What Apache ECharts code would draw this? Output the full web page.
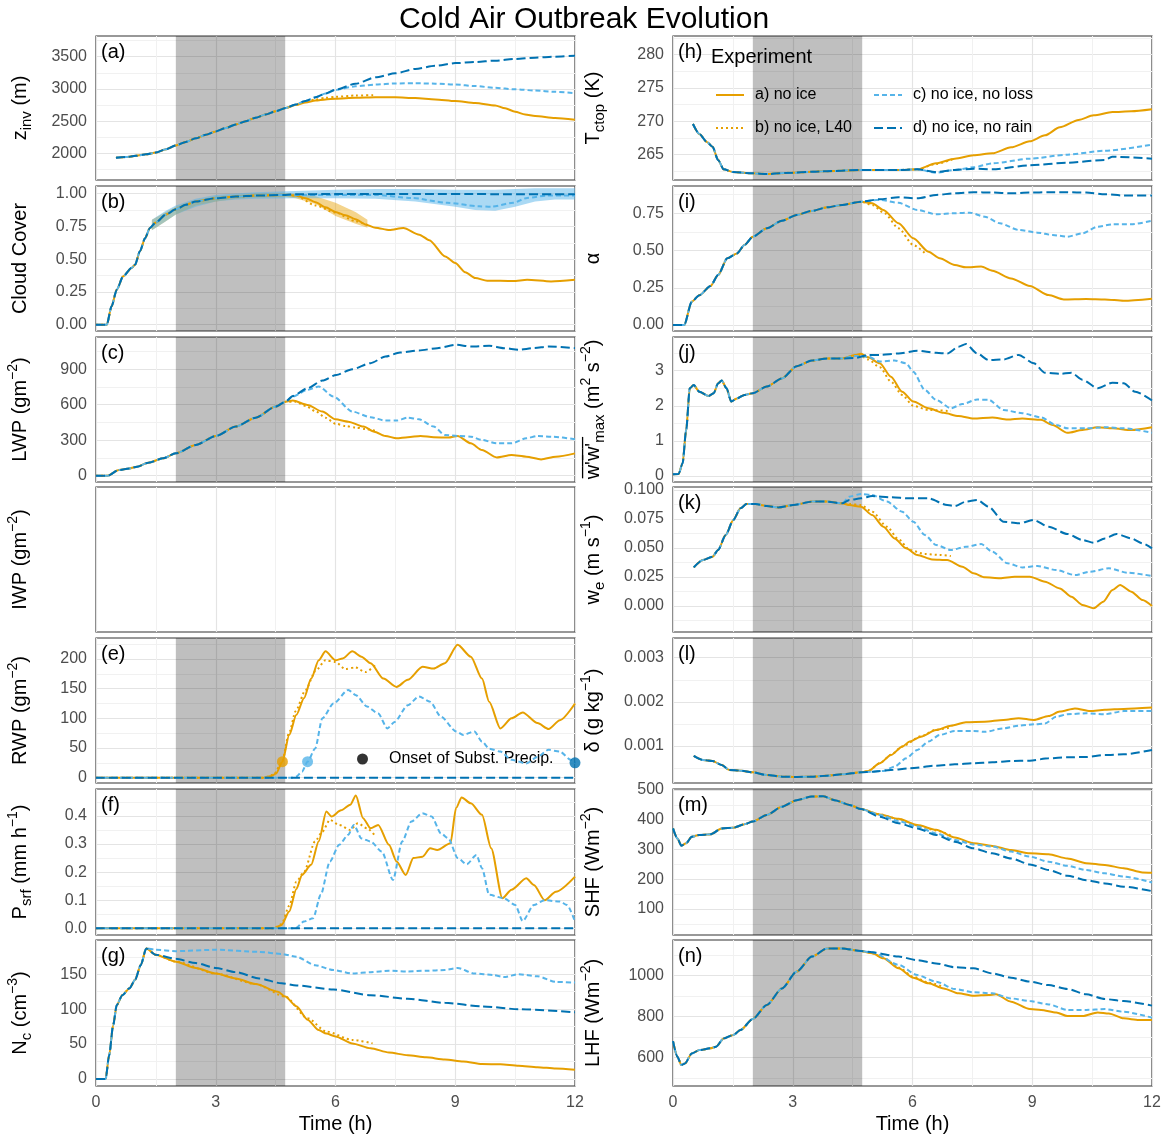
<!DOCTYPE html>
<html lang="en">
<head>
<meta charset="UTF-8">
<title>Cold Air Outbreak Evolution</title>
<script src="https://cdn.jsdelivr.net/npm/echarts@6.0.0/dist/echarts.min.js"></script>
<style>
    html, body { margin: 0; padding: 0; background: #fff; }
    #chart { width: 1168px; height: 1139px; }
</style>
</head>
<body>
<div id="chart"></div>
<script>
// experiments: colour + line type
var NAMES = ['a) no ice', 'b) no ice, L40', 'c) no ice, no loss', 'd) no ice, no rain'];
var COLORS = ['#E69F00', '#E69F00', '#56B4E9', '#0072B2'];
var DASHES = ['solid', [2, 3], [5, 3], [9, 4]];
var SHADE = [2, 4.74];   // grey band, hours

// (a) inversion height, m
var zinvEarly = [[0.5,1935],[0.75,1945],[1,1965],[1.25,1987],[1.5,2015],[1.75,2065],[2,2125],[2.25,2180],[2.5,2235],[2.75,2290],[3,2343],[3.25,2395],[3.5,2450],[3.75,2500],[4,2555],[4.25,2605],[4.5,2655],[4.75,2705]];
var zinvA = zinvEarly.concat([[5,2750],[5.25,2790],[5.5,2820],[5.75,2838],[6,2850],[6.5,2865],[7,2872],[7.5,2872],[8,2858],[8.5,2838],[9,2812],[9.5,2782],[10,2745],[10.25,2700],[10.5,2648],[10.75,2605],[11,2580],[11.5,2550],[12,2524]]);
var zinvB = zinvEarly.concat([[5,2755],[5.25,2800],[5.5,2838],[5.75,2862],[6,2878],[6.5,2898],[7,2905]]);
var zinvC = zinvEarly.concat([[5,2760],[5.25,2815],[5.5,2870],[5.75,2930],[6,2985],[6.5,3040],[7,3068],[7.5,3085],[8,3088],[8.5,3082],[9,3068],[9.5,3045],[10,3017],[10.5,2995],[11,2975],[11.5,2955],[12,2935]]);
var zinvD = zinvEarly.concat([[5,2760],[5.25,2815],[5.5,2870],[5.75,2930],[6,2988],[6.5,3080],[7,3180],[7.5,3242],[8,3310],[8.5,3358],[9,3400],[9.5,3418],[10,3438],[10.5,3464],[11,3485],[11.5,3500],[12,3515]]);

// (b) cloud cover
var ccEarly = [[0,0],[0.27,0],[0.39,0.14],[0.52,0.267],[0.68,0.369],[0.89,0.433],[0.98,0.458],[1.1,0.56],[1.23,0.66],[1.35,0.738],[1.5,0.78],[1.75,0.84],[2,0.88],[2.25,0.915],[2.5,0.94],[3,0.965],[3.5,0.977],[4,0.985],[4.75,0.99]];
var ccA = ccEarly.concat([[5,0.985],[5.25,0.965],[5.5,0.935],[5.75,0.895],[6,0.86],[6.25,0.835],[6.5,0.805],[6.75,0.765],[7,0.74],[7.35,0.722],[7.7,0.738],[8.1,0.687],[8.35,0.645],[8.75,0.52],[9,0.47],[9.25,0.4],[9.5,0.356],[9.8,0.336],[10.45,0.333],[10.8,0.343],[11.4,0.33],[12,0.343]]);
var ccB = ccEarly.concat([[5,0.985],[5.5,0.91],[6,0.855],[6.5,0.79],[6.8,0.76]]);
var ccC = ccEarly.concat([[5,0.99],[6,0.99],[7,0.99],[7.9,0.967],[8.8,0.93],[9.6,0.903],[9.9,0.9],[10.45,0.93],[10.8,0.967],[11.3,0.985],[12,0.985]]);
var ccD = ccEarly.concat([[5,0.995],[6,0.997],[8,0.997],[10,0.996],[12,0.995]]);
// uncertainty ribbons: [hour, low, high]
var ccBandOrange = [[1.4,0.72,0.8],[1.75,0.79,0.86],[2,0.84,0.9],[2.5,0.91,0.95],[3,0.94,0.98],[3.5,0.96,0.99],[4,0.97,1.0],[4.75,0.975,1.005],[5,0.965,1.0],[5.5,0.92,0.98],[6,0.83,0.93],[6.5,0.77,0.86],[6.8,0.74,0.8]];
var ccBandBlue = [[1.4,0.72,0.8],[1.75,0.79,0.87],[2,0.84,0.91],[2.5,0.9,0.96],[3,0.94,0.99],[3.5,0.955,1.0],[4,0.96,1.01],[5,0.965,1.02],[6,0.965,1.03],[7,0.96,1.035],[8,0.94,1.035],[9,0.9,1.03],[9.5,0.875,1.03],[10,0.87,1.03],[10.5,0.9,1.035],[11,0.94,1.04],[11.5,0.955,1.04],[12,0.955,1.04]];

// (c) LWP, g m-2
var lwpEarly = [[0,0],[0.29,0],[0.57,48],[0.84,62],[1.03,76],[1.31,110],[1.68,147],[2,189],[2.5,260],[3,336],[3.5,415],[4,490],[4.5,584],[4.75,626]];
var lwpA = lwpEarly.concat([[4.93,635],[5.3,598],[5.67,542],[6,477],[6.32,457],[6.7,415],[6.97,372],[7.25,336],[7.53,316],[7.81,325],[8.13,336],[8.46,325],[8.83,322],[9.06,336],[9.39,274],[9.67,217],[10.04,155],[10.41,175],[10.78,161],[11.15,138],[11.52,161],[12,189]]);
var lwpB = lwpEarly.concat([[5,625],[5.25,590],[5.5,545],[5.75,490],[6,440],[6.25,420],[6.5,408],[6.75,395],[7,380]]);
var lwpC = lwpEarly.concat([[4.93,669],[5.3,725],[5.58,753],[5.95,669],[6.42,542],[6.88,494],[7.25,466],[7.53,466],[7.81,491],[8.09,477],[8.46,415],[8.74,344],[9.1,336],[9.39,330],[9.67,302],[10.04,274],[10.41,274],[10.78,316],[11.06,336],[11.43,330],[12,308]]);
var lwpD = lwpEarly.concat([[4.93,674],[5.3,739],[5.67,804],[6.02,852],[6.42,900],[6.88,951],[7.25,1007],[7.62,1041],[8.09,1058],[8.55,1078],[9.02,1106],[9.39,1092],[9.85,1098],[10.22,1078],[10.59,1064],[10.97,1078],[11.34,1092],[12,1078]]);

// (e) RWP, g m-2
var rwpA = [[0,0],[4.2,0],[4.4,3],[4.51,7],[4.67,27],[4.84,72],[5.02,106],[5.21,134],[5.39,167],[5.58,198],[5.75,213],[6,198],[6.18,201],[6.42,213],[6.65,204],[6.88,193],[7.2,167],[7.53,153],[7.81,165],[8.18,187],[8.46,184],[8.74,193],[9.06,224],[9.39,204],[9.67,167],[9.85,128],[10.13,83],[10.41,100],[10.69,110],[11.06,92],[11.34,82],[11.62,97],[12,125]];
var rwpB = [[0,0],[4.2,0],[4.45,5],[4.65,25],[4.85,78],[5,112],[5.25,148],[5.5,180],[5.75,198],[6,195],[6.25,183],[6.5,186],[6.75,178],[7,190]];
var rwpC = [[0,0],[4.9,0],[5.02,2],[5.16,10],[5.3,27],[5.49,49],[5.67,100],[5.95,125],[6.32,148],[6.51,139],[6.79,120],[7.07,108],[7.3,83],[7.48,94],[7.81,122],[8.09,137],[8.37,128],[8.64,103],[9.02,78],[9.2,72],[9.48,78],[9.67,61],[9.85,49],[10.13,44],[10.41,30],[10.78,24],[11.06,35],[11.34,47],[11.62,44],[11.9,30],[12,25]];
var rwpD = [[0,0],[12,0]];
var onsetA = [4.67, 27], onsetC = [5.3, 27], onsetD = [12, 25];

// (f) surface precipitation, mm h-1
var psrfA = [[0,0],[4.45,0],[4.65,0.012],[4.84,0.06],[5.02,0.14],[5.16,0.19],[5.39,0.226],[5.58,0.31],[5.77,0.416],[5.9,0.398],[6.14,0.42],[6.37,0.44],[6.51,0.473],[6.69,0.392],[6.88,0.356],[7.07,0.368],[7.34,0.297],[7.53,0.238],[7.76,0.19],[7.95,0.25],[8.18,0.255],[8.37,0.285],[8.55,0.279],[8.88,0.303],[9.02,0.428],[9.16,0.466],[9.39,0.445],[9.67,0.404],[9.9,0.285],[10.18,0.107],[10.41,0.137],[10.78,0.178],[10.97,0.154],[11.24,0.1],[11.52,0.13],[12,0.184]];
var psrfB = [[0,0],[4.45,0],[4.65,0.015],[4.84,0.08],[5.02,0.166],[5.21,0.2],[5.49,0.31],[5.67,0.344],[5.86,0.386],[6.09,0.368],[6.37,0.35],[6.56,0.374],[6.79,0.356],[6.97,0.333]];
var psrfC = [[0,0],[5,0],[5.21,0.024],[5.44,0.036],[5.63,0.119],[5.86,0.238],[6.09,0.297],[6.32,0.333],[6.46,0.368],[6.65,0.32],[6.88,0.309],[7.16,0.273],[7.44,0.172],[7.67,0.309],[7.9,0.38],[8.18,0.41],[8.41,0.398],[8.64,0.338],[8.83,0.32],[9.06,0.25],[9.29,0.228],[9.53,0.261],[9.67,0.214],[9.85,0.119],[10.22,0.107],[10.5,0.083],[10.69,0.026],[10.97,0.083],[11.24,0.1],[11.62,0.095],[11.8,0.083],[12,0.024]];
var psrfD = [[0,0],[12,0]];

// (g) droplet number, cm-3
var ncEarly = [[0,0],[0.24,0],[0.33,34],[0.43,77],[0.52,106],[0.66,120],[0.84,130],[0.98,142],[1.12,163],[1.26,187]];
var ncA = ncEarly.concat([[1.49,178],[2,168],[2.5,159],[3,151],[3.5,144],[4,136],[4.56,125],[4.74,118],[5.02,104],[5.3,85],[5.58,70],[5.77,65],[6,61],[6.42,51],[6.88,44],[7.34,38],[7.81,34],[8.27,31],[8.74,28],[9.2,25],[9.67,21.5],[10.13,21],[10.59,19],[11.06,17],[11.52,15],[12,13.4]]);
var ncB = ncEarly.concat([[1.49,178],[2,168],[3,151],[4,136],[4.74,118],[5.3,87],[5.77,68],[6.42,56],[6.93,51]]);
var ncC = ncEarly.concat([[1.49,185],[2,183],[3,185],[4.09,182],[4.65,179],[5.02,175],[5.49,163],[5.95,156],[6.42,151],[6.88,153],[7.34,155],[7.81,154],[8.27,155],[8.74,156],[9.06,159],[9.48,151],[9.94,149],[10.22,146],[10.59,150],[11.06,147],[11.52,139],[12,138]]);
var ncD = ncEarly.concat([[1.49,178],[2,172],[2.5,166],[3,159],[3.5,153],[4.09,144],[4.65,137],[5.02,134],[5.95,128],[6.88,120],[7.81,115],[8.74,109],[9.67,104],[10.59,100],[12,95.5]]);

// (h) cloud-top temperature, K
var tctEarly = [[0.5,269.6],[0.66,268.1],[0.85,266.9],[0.99,266.2],[1.13,264.2],[1.27,262.8],[1.5,262.4],[2,262.2],[2.35,262.1],[3,262.3],[3.75,262.5],[4.7,262.7],[5.65,262.7],[6.12,262.8]];
var tctA = tctEarly.concat([[6.59,263.7],[7.06,264.4],[7.53,264.9],[8,265.2],[8.47,266.1],[8.94,267],[9.32,267.9],[9.69,269.1],[10.16,270.2],[10.54,270.9],[11.01,271.4],[11.48,271.5],[12,271.8]]);
var tctB = tctEarly.concat([[6.59,263.6],[7,264.3]]);
var tctC = tctEarly.concat([[6.59,262.3],[7.06,262.7],[7.53,263.1],[8,263.7],[8.94,264.4],[9.88,265],[10.82,265.6],[12,266.5]]);
var tctD = tctEarly.concat([[6.59,262.4],[7.06,262.7],[7.53,262.9],[8,262.8],[8.94,263.4],[9.88,263.8],[10.82,264.2],[11,264.7],[12,264.4]]);

// (i) albedo
var albEarly = [[0,0],[0.28,0],[0.47,0.157],[0.66,0.2],[0.94,0.262],[1.13,0.336],[1.36,0.448],[1.6,0.48],[1.79,0.537],[2,0.593],[2.35,0.649],[2.73,0.7],[3.1,0.739],[3.48,0.766],[3.86,0.79],[4.24,0.806],[4.71,0.828]];
var albA = albEarly.concat([[4.99,0.817],[5.27,0.772],[5.65,0.683],[6.02,0.582],[6.4,0.492],[6.68,0.448],[7.06,0.403],[7.34,0.387],[7.72,0.392],[8,0.365],[8.47,0.313],[8.94,0.262],[9.41,0.201],[9.79,0.172],[10.35,0.175],[10.82,0.172],[11.29,0.163],[12,0.177]]);
var albB = albEarly.concat([[4.99,0.806],[5.3,0.75],[5.65,0.649],[6.02,0.537],[6.36,0.47]]);
var albC = albEarly.concat([[5.18,0.84],[5.65,0.82],[6.12,0.772],[6.59,0.743],[7.06,0.75],[7.44,0.754],[7.81,0.727],[8.19,0.683],[8.66,0.638],[9.13,0.62],[9.51,0.604],[9.88,0.593],[10.26,0.616],[10.64,0.66],[11.01,0.676],[11.48,0.676],[12,0.7]]);
var albD = albEarly.concat([[5.18,0.844],[5.65,0.857],[6.12,0.85],[6.59,0.873],[7.06,0.884],[7.53,0.891],[8,0.889],[8.47,0.884],[8.94,0.889],[9.41,0.891],[9.88,0.891],[10.35,0.889],[10.82,0.878],[11.29,0.869],[12,0.869]]);

// (j) max vertical velocity variance, m2 s-2
var wwEarly = [[0,0.05],[0.14,0.06],[0.24,0.36],[0.33,1.31],[0.42,2.5],[0.52,2.59],[0.66,2.4],[0.89,2.28],[1.02,2.36],[1.13,2.64],[1.22,2.72],[1.34,2.5],[1.46,2.12],[1.6,2.21],[1.79,2.31],[2,2.36],[2.35,2.55],[2.73,2.78],[3.1,3.13],[3.48,3.29],[3.86,3.35],[4.24,3.35]];
var wwA = wwEarly.concat([[4.56,3.45],[4.71,3.48],[4.89,3.38],[5.18,3.21],[5.46,2.83],[5.74,2.4],[6.02,2.12],[6.4,1.93],[6.78,1.8],[7.15,1.71],[7.53,1.64],[8,1.67],[8.38,1.61],[8.75,1.64],[9.22,1.6],[9.51,1.45],[9.88,1.23],[10.26,1.31],[10.64,1.39],[11.01,1.36],[11.48,1.31],[12,1.39]]);
var wwB = wwEarly.concat([[4.56,3.42],[4.71,3.42],[4.89,3.32],[5.18,3.1],[5.46,2.69],[5.74,2.31],[6.02,2],[6.4,1.88],[6.96,1.85]]);
var wwC = wwEarly.concat([[4.56,3.42],[4.89,3.4],[5.18,3.26],[5.55,3.29],[5.84,3.21],[6.02,2.97],[6.31,2.45],[6.59,2.17],[6.96,1.93],[7.25,2.05],[7.62,2.18],[7.91,2.17],[8.28,1.88],[8.75,1.79],[9.22,1.67],[9.6,1.45],[9.88,1.36],[10.35,1.36],[10.82,1.39],[11.29,1.36],[12,1.23]]);
var wwD = wwEarly.concat([[4.56,3.36],[4.89,3.45],[5.18,3.45],[5.65,3.49],[6.12,3.57],[6.59,3.51],[6.87,3.49],[7.15,3.68],[7.34,3.76],[7.62,3.49],[7.91,3.3],[8.28,3.32],[8.66,3.45],[9.04,3.21],[9.32,2.94],[9.69,2.91],[9.98,2.94],[10.26,2.74],[10.64,2.5],[11.01,2.66],[11.29,2.64],[11.58,2.4],[12,2.15]]);

// (k) entrainment velocity, m s-1
var weEarly = [[0.52,0.0333],[0.75,0.0397],[0.99,0.0425],[1.13,0.0483],[1.32,0.0612],[1.51,0.0741],[1.69,0.0842],[1.84,0.0879],[2.07,0.0879],[2.35,0.0862],[2.64,0.085],[3.01,0.087],[3.48,0.09],[3.86,0.09],[4.24,0.0885]];
var weA = weEarly.concat([[4.42,0.087],[4.71,0.0856],[4.99,0.0784],[5.27,0.0684],[5.55,0.0583],[5.84,0.0497],[6.12,0.044],[6.49,0.0402],[6.87,0.0397],[7.25,0.0339],[7.53,0.0282],[7.81,0.0247],[8.19,0.0239],[8.56,0.0253],[8.94,0.0253],[9.32,0.021],[9.69,0.0152],[9.98,0.008],[10.26,0.0009],[10.54,-0.002],[10.78,0.0037],[11.01,0.0138],[11.2,0.0181],[11.48,0.0124],[11.76,0.0052],[12,0]]);
var weB = weEarly.concat([[4.42,0.088],[4.71,0.087],[4.99,0.0813],[5.36,0.0684],[5.65,0.0575],[5.93,0.0483],[6.31,0.0448],[6.68,0.044],[6.96,0.0431]]);
var weC = weEarly.concat([[4.42,0.0943],[4.71,0.0966],[4.99,0.0957],[5.36,0.09],[5.74,0.0813],[6.02,0.0727],[6.31,0.0612],[6.59,0.0526],[6.96,0.0483],[7.34,0.0511],[7.72,0.0534],[8,0.0468],[8.38,0.0368],[8.75,0.0333],[9.13,0.0345],[9.6,0.031],[10.07,0.0267],[10.45,0.0296],[10.92,0.0325],[11.39,0.0287],[12,0.0259]]);
var weD = weEarly.concat([[4.42,0.0914],[4.71,0.0928],[4.99,0.0948],[5.46,0.0937],[5.93,0.0928],[6.4,0.0928],[6.87,0.087],[7.06,0.0862],[7.34,0.09],[7.62,0.0914],[7.91,0.0856],[8.28,0.0727],[8.66,0.0713],[9.04,0.0741],[9.41,0.0684],[9.88,0.0621],[10.26,0.0569],[10.54,0.0546],[10.82,0.0583],[11.11,0.0621],[11.48,0.0583],[11.76,0.054],[12,0.0497]]);

// (l) decoupling, g kg-1
var dlEarly = [[0.52,0.000774],[0.75,0.000683],[0.99,0.00066],[1.22,0.00057],[1.41,0.000457],[1.69,0.000442],[2,0.000404],[2.35,0.000343],[2.73,0.000306],[3.1,0.000298],[3.48,0.000306],[3.86,0.000328],[4.24,0.000358],[4.71,0.000404]];
var dlA = dlEarly.concat([[4.89,0.000434],[5.18,0.000608],[5.46,0.000796],[5.74,0.000985],[5.93,0.0011],[6.21,0.00121],[6.59,0.00136],[6.96,0.00146],[7.34,0.00154],[7.81,0.00155],[8.28,0.00159],[8.66,0.00163],[9.04,0.00159],[9.41,0.00168],[9.69,0.00178],[10.07,0.00185],[10.45,0.00179],[10.82,0.00182],[11.29,0.00184],[12,0.00187]]);
var dlB = dlEarly.concat([[4.89,0.000434],[5.18,0.00061],[5.46,0.0008],[5.74,0.00099],[6.21,0.00122],[6.59,0.00137],[6.96,0.00142]]);
var dlC = dlEarly.concat([[4.99,0.000419],[5.27,0.000434],[5.55,0.000532],[5.84,0.00072],[6.12,0.00091],[6.4,0.0011],[6.68,0.00125],[7.06,0.00134],[7.53,0.00134],[7.81,0.00132],[8.28,0.0014],[8.66,0.00146],[9.04,0.00149],[9.32,0.00151],[9.6,0.00166],[9.88,0.00172],[10.35,0.00174],[10.82,0.00172],[11.29,0.00179],[12,0.00179]]);
var dlD = dlEarly.concat([[4.99,0.000419],[5.46,0.000457],[5.93,0.000494],[6.59,0.000555],[7.06,0.000585],[7.53,0.000608],[8,0.00063],[8.47,0.00066],[8.94,0.000668],[9.41,0.00072],[9.88,0.000743],[10.35,0.000751],[10.82,0.000796],[11.29,0.000811],[12,0.00091]]);

// (m) sensible heat flux, W m-2
var shfEarly = [[0,371],[0.11,337],[0.21,313],[0.33,321],[0.47,343],[0.66,349],[0.94,351],[1.22,371],[1.51,373],[1.79,385],[2,394],[2.35,416],[2.73,444],[3.1,466],[3.48,478],[3.76,479],[4.05,466],[4.42,450],[4.71,436]];
var shfA = shfEarly.concat([[5.18,418],[5.65,403],[6.12,382],[6.59,366],[7.06,340],[7.53,321],[8,312],[8.47,298],[8.94,287],[9.41,284],[9.88,270],[10.35,254],[10.82,248],[11.29,237],[11.76,223],[12,222]]);
var shfB = shfEarly.concat([[5.18,418],[5.65,402],[6.12,381],[6.59,364],[7,345]]);
var shfC = shfEarly.concat([[5.18,416],[5.65,396],[6.12,377],[6.59,354],[7.06,332],[7.53,317],[8,310],[8.47,293],[8.94,276],[9.41,259],[9.88,245],[10.35,231],[10.82,220],[11.29,209],[12,189]]);
var shfD = shfEarly.concat([[5.18,410],[5.65,388],[6.12,371],[6.59,349],[7.06,326],[7.53,304],[8,287],[8.47,270],[8.94,250],[9.41,231],[9.88,212],[10.35,197],[10.82,186],[11.29,175],[12,160]]);

// (n) latent heat flux, W m-2
var lhfEarly = [[0,681],[0.11,605],[0.21,564],[0.3,572],[0.47,621],[0.66,637],[0.94,646],[1.08,654],[1.27,694],[1.51,711],[1.69,735],[2,789],[2.35,857],[2.73,938],[3.1,1020],[3.48,1093],[3.86,1133],[4.24,1133],[4.71,1120]];
var lhfA = lhfEarly.concat([[4.99,1109],[5.27,1085],[5.65,1036],[6.02,990],[6.4,963],[6.78,938],[7.15,914],[7.53,902],[7.91,906],[8.09,909],[8.47,873],[8.94,837],[9.22,833],[9.6,821],[9.88,803],[10.26,803],[10.64,821],[10.92,816],[11.29,792],[11.67,784],[12,784]]);
var lhfB = lhfEarly.concat([[4.99,1110],[5.27,1088],[5.65,1040],[6.02,995],[6.4,966],[6.78,945]]);
var lhfC = lhfEarly.concat([[4.99,1114],[5.65,1053],[6.12,1003],[6.59,971],[7.06,935],[7.53,919],[8,914],[8.47,889],[8.94,876],[9.41,860],[9.88,833],[10.35,833],[10.82,837],[11.29,824],[12,795]]);
var lhfD = lhfEarly.concat([[4.99,1114],[5.65,1093],[6.12,1076],[6.59,1060],[7.06,1041],[7.53,1036],[8,1011],[8.47,990],[8.94,971],[9.41,954],[9.88,935],[10.35,909],[10.82,886],[11.29,876],[12,854]]);

// panel table: axis range, major / minor breaks, label decimals
var PANELS = [
    {col: 0, row: 0, tag: '(a)', name: '{b|z}{s|inv}{b| (m)}', min: 1590, max: 3820, major: [2000, 2500, 3000, 3500], minor: [1750, 2250, 2750, 3250, 3750], dec: 0, data: [zinvA, zinvB, zinvC, zinvD]},
    {col: 0, row: 1, tag: '(b)', name: '{b|Cloud Cover}', min: -0.048, max: 1.058, major: [0, 0.25, 0.5, 0.75, 1], minor: [0.125, 0.375, 0.625, 0.875], dec: 2, data: [ccA, ccB, ccC, ccD]},
    {col: 0, row: 2, tag: '(c)', name: '{b|LWP (gm}{p|\u22122}{b|)}', min: -53, max: 1172, major: [0, 300, 600, 900], minor: [150, 450, 750, 1050], dec: 0, data: [lwpA, lwpB, lwpC, lwpD]},
    {col: 0, row: 3, tag: '', name: '{b|IWP (gm}{p|\u22122}{b|)}', min: 0, max: 1, major: null, minor: null, dec: 0, data: []},
    {col: 0, row: 4, tag: '(e)', name: '{b|RWP (gm}{p|\u22122}{b|)}', min: -9, max: 235.5, major: [0, 50, 100, 150, 200], minor: [25, 75, 125, 175, 225], dec: 0, data: [rwpA, rwpB, rwpC, rwpD]},
    {col: 0, row: 5, tag: '(f)', name: '{b|P}{s|srf}{b| (mm h}{p|\u22121}{b|)}', min: -0.024, max: 0.496, major: [0, 0.1, 0.2, 0.3, 0.4], minor: [0.05, 0.15, 0.25, 0.35, 0.45], dec: 1, data: [psrfA, psrfB, psrfC, psrfD]},
    {col: 0, row: 6, tag: '(g)', name: '{b|N}{s|c}{b| (cm}{p|\u22123}{b|)}', min: -10, max: 199, major: [0, 50, 100, 150], minor: [25, 75, 125, 175], dec: 0, data: [ncA, ncB, ncC, ncD]},
    {col: 1, row: 0, tag: '(h)', name: '{b|T}{s|ctop}{b| (K)}', min: 261.2, max: 282.8, major: [265, 270, 275, 280], minor: [262.5, 267.5, 272.5, 277.5, 282.5], dec: 0, data: [tctA, tctB, tctC, tctD]},
    {col: 1, row: 1, tag: '(i)', name: '{b|\u03b1}', min: -0.04, max: 0.933, major: [0, 0.25, 0.5, 0.75], minor: [0.125, 0.375, 0.625, 0.875], dec: 2, data: [albA, albB, albC, albD]},
    {col: 1, row: 2, tag: '(j)', name: '{b|w\u0305\'\u0305w\u0305\'\u0305}{s|max}{b| (m}{p|2}{b| s}{p|\u22122}{b|)}', min: -0.17, max: 3.96, major: [0, 1, 2, 3], minor: [0.5, 1.5, 2.5, 3.5], dec: 0, data: [wwA, wwB, wwC, wwD]},
    {col: 1, row: 3, tag: '(k)', name: '{b|w}{s|e}{b| (m s}{p|\u22121}{b|)}', min: -0.0224, max: 0.1026, major: [0, 0.025, 0.05, 0.075, 0.1], minor: [-0.0125, 0.0125, 0.0375, 0.0625, 0.0875], dec: 3, data: [weA, weB, weC, weD]},
    {col: 1, row: 4, tag: '(l)', name: '{b|\u03b4 (g kg}{p|\u22121}{b|)}', min: 0.000162, max: 0.003446, major: [0.001, 0.002, 0.003], minor: [0.0005, 0.0015, 0.0025], dec: 3, data: [dlA, dlB, dlC, dlD]},
    {col: 1, row: 5, tag: '(m)', name: '{b|SHF (Wm}{p|\u22122}{b|)}', min: 12.6, max: 503.4, major: [100, 200, 300, 400, 500], minor: [50, 150, 250, 350, 450], dec: 0, data: [shfA, shfB, shfC, shfD]},
    {col: 1, row: 6, tag: '(n)', name: '{b|LHF (Wm}{p|\u22122}{b|)}', min: 462, max: 1174, major: [600, 800, 1000], minor: [500, 700, 900, 1100], dec: 0, data: [lhfA, lhfB, lhfC, lhfD]}
];

var FONT = 'Liberation Sans, Arial, Helvetica, sans-serif';
var LEFTS = [96, 673], WIDTH = 479;
var TOPS = [36, 186, 337, 487, 638, 789, 940];
var HEIGHTS = [144, 145, 145, 145, 145, 146, 146];
var GRID_MAJOR = '#e4e4e4', GRID_MINOR = '#f1f1f1';

var nameStyle = {
    color: '#000', fontSize: 20, fontFamily: FONT,
    rich: {
        b: {fontSize: 20, color: '#000', fontFamily: FONT, lineHeight: 28},
        s: {fontSize: 15, color: '#000', fontFamily: FONT, lineHeight: 15, verticalAlign: 'bottom'},
        p: {fontSize: 14, color: '#000', fontFamily: FONT, lineHeight: 14, verticalAlign: 'top'}
    }
};

var grids = [], xAxes = [], yAxes = [], series = [];
var titles = [{
    text: 'Cold Air Outbreak Evolution', left: 'center', top: 2, padding: [3, 5],
    textStyle: {fontSize: 30, fontWeight: 'normal', color: '#000', fontFamily: FONT}
}, {
    text: 'Experiment', left: 711, top: 47, padding: 0,
    textStyle: {fontSize: 20, fontWeight: 'normal', color: '#000', fontFamily: FONT}
}];

function fmt(dec) {
    return function (v) { return v.toFixed(dec); };
}

// ribbon drawn as one polygon through the axes' own coordinates
function ribbon(i, rows, color) {
    return {
        type: 'custom', xAxisIndex: i, yAxisIndex: 2 * i, z: 2, silent: true,
        data: rows, encode: {x: 0, y: [1, 2]},
        renderItem: function (params, api) {
            if (params.dataIndex !== 0) return null;
            var up = rows.map(function (r) { return api.coord([r[0], r[2]]); });
            var lo = rows.map(function (r) { return api.coord([r[0], r[1]]); }).reverse();
            return {type: 'polygon', shape: {points: up.concat(lo)}, style: {fill: color}};
        }
    };
}

PANELS.forEach(function (p, i) {
    var left = LEFTS[p.col], top = TOPS[p.row];
    var bottomRow = p.row === 6;
    grids.push({
        left: left, top: top, width: WIDTH, height: HEIGHTS[p.row],
        show: true, borderColor: '#333', borderWidth: 1.2, backgroundColor: 'transparent'
    });
    xAxes.push({
        gridIndex: i, type: 'value', min: 0, max: 12, interval: 3,
        axisLine: {show: false}, axisTick: {show: false},
        axisLabel: {show: bottomRow, fontSize: 16, color: '#4d4d4d', margin: 9, fontFamily: FONT},
        splitLine: {show: true, lineStyle: {color: GRID_MAJOR, width: 1.2}},
        minorTick: {show: false, splitNumber: 2},
        minorSplitLine: {show: true, lineStyle: {color: GRID_MINOR, width: 1}},
        name: bottomRow ? 'Time (h)' : '', nameLocation: 'middle', nameGap: 28,
        nameTextStyle: {fontSize: 20, color: '#000', fontFamily: FONT}
    });
    var hasY = !!p.major;
    var yMain = {
        gridIndex: i, type: 'value', min: p.min, max: p.max, position: 'left',
        axisLine: {show: false},
        axisTick: {show: false},
        axisLabel: {show: hasY, formatter: fmt(p.dec), fontSize: 16, color: '#4d4d4d', margin: 9, fontFamily: FONT},
        splitLine: {show: hasY, lineStyle: {color: GRID_MAJOR, width: 1.2}},
        name: p.name, nameLocation: 'middle', nameGap: p.col ? 66 : 62,
        nameTextStyle: nameStyle
    };
    var yMinor = {
        gridIndex: i, type: 'value', min: p.min, max: p.max, position: 'left',
        axisLine: {show: false}, axisTick: {show: false}, axisLabel: {show: false},
        splitLine: {show: hasY, lineStyle: {color: GRID_MINOR, width: 1}}
    };
    if (hasY) {
        yMain.axisTick.customValues = p.major;
        yMain.axisLabel.customValues = p.major;
        yMinor.axisTick.customValues = p.minor;
        yMinor.axisLabel.customValues = p.minor;
    }
    yAxes.push(yMain, yMinor);

    if (p.tag) {
        titles.push({
            text: p.tag, left: left + 5, top: top + 6, padding: 0,
            textStyle: {fontSize: 20, fontWeight: 'normal', color: '#000', fontFamily: FONT}
        });
    }

    p.data.forEach(function (d, k) {
        var s = {
            name: NAMES[k], type: 'line', xAxisIndex: i, yAxisIndex: 2 * i,
            data: d, symbol: 'none', showSymbol: false, smooth: 0.25, smoothMonotone: 'x',
            lineStyle: {color: COLORS[k], width: 2, type: DASHES[k]},
            itemStyle: {color: COLORS[k]}, z: 3 + k
        };
        if (k === 0) {
            s.markArea = {
                silent: true, itemStyle: {color: 'rgba(0,0,0,0.25)'},
                data: [[{xAxis: SHADE[0]}, {xAxis: SHADE[1]}]]
            };
        }
        series.push(s);
    });

    // ribbons in the cloud cover panel
    if (p.tag === '(b)') {
        series.push(ribbon(i, ccBandOrange, 'rgba(230,159,0,0.45)'));
        series.push(ribbon(i, ccBandBlue, 'rgba(86,180,233,0.5)'));
    }

    if (p.tag === '(e)') {
        series.push({
            name: 'Onset of Subst. Precip.', type: 'scatter', xAxisIndex: i, yAxisIndex: 2 * i,
            symbolSize: 11, itemStyle: {color: '#000'}, z: 8,
            data: [
                {value: onsetA, itemStyle: {color: COLORS[0]}},
                {value: onsetC, itemStyle: {color: COLORS[2]}},
                {value: onsetD, itemStyle: {color: COLORS[3]}}
            ]
        });
    }
});

var legendText = {fontSize: 16, color: '#000', fontFamily: FONT, lineHeight: 20, padding: [0, 0, 0, 6]};

var option = {
    animation: false,
    backgroundColor: '#fff',
    textStyle: {fontFamily: FONT},
    title: titles,
    legend: [
        {left: 710, top: 80, orient: 'vertical', itemWidth: 28, itemHeight: 14, itemGap: 13,
            selectedMode: false, itemStyle: {opacity: 0}, data: [NAMES[0], NAMES[1]], textStyle: legendText},
        {left: 868, top: 80, orient: 'vertical', itemWidth: 28, itemHeight: 14, itemGap: 13,
            selectedMode: false, itemStyle: {opacity: 0}, data: [NAMES[2], NAMES[3]], textStyle: legendText},
        {left: 352, top: 746, itemWidth: 11, itemHeight: 11, selectedMode: false,
            data: [{name: 'Onset of Subst. Precip.', icon: 'circle'}],
            textStyle: {fontSize: 16, color: '#000', fontFamily: FONT, padding: [0, 0, 0, 16]}}
    ],
    grid: grids,
    xAxis: xAxes,
    yAxis: yAxes,
    series: series
};

var myChart = echarts.init(document.getElementById('chart'));
myChart.setOption(option);
window.onresize = myChart.resize;
</script>
</body>
</html>
